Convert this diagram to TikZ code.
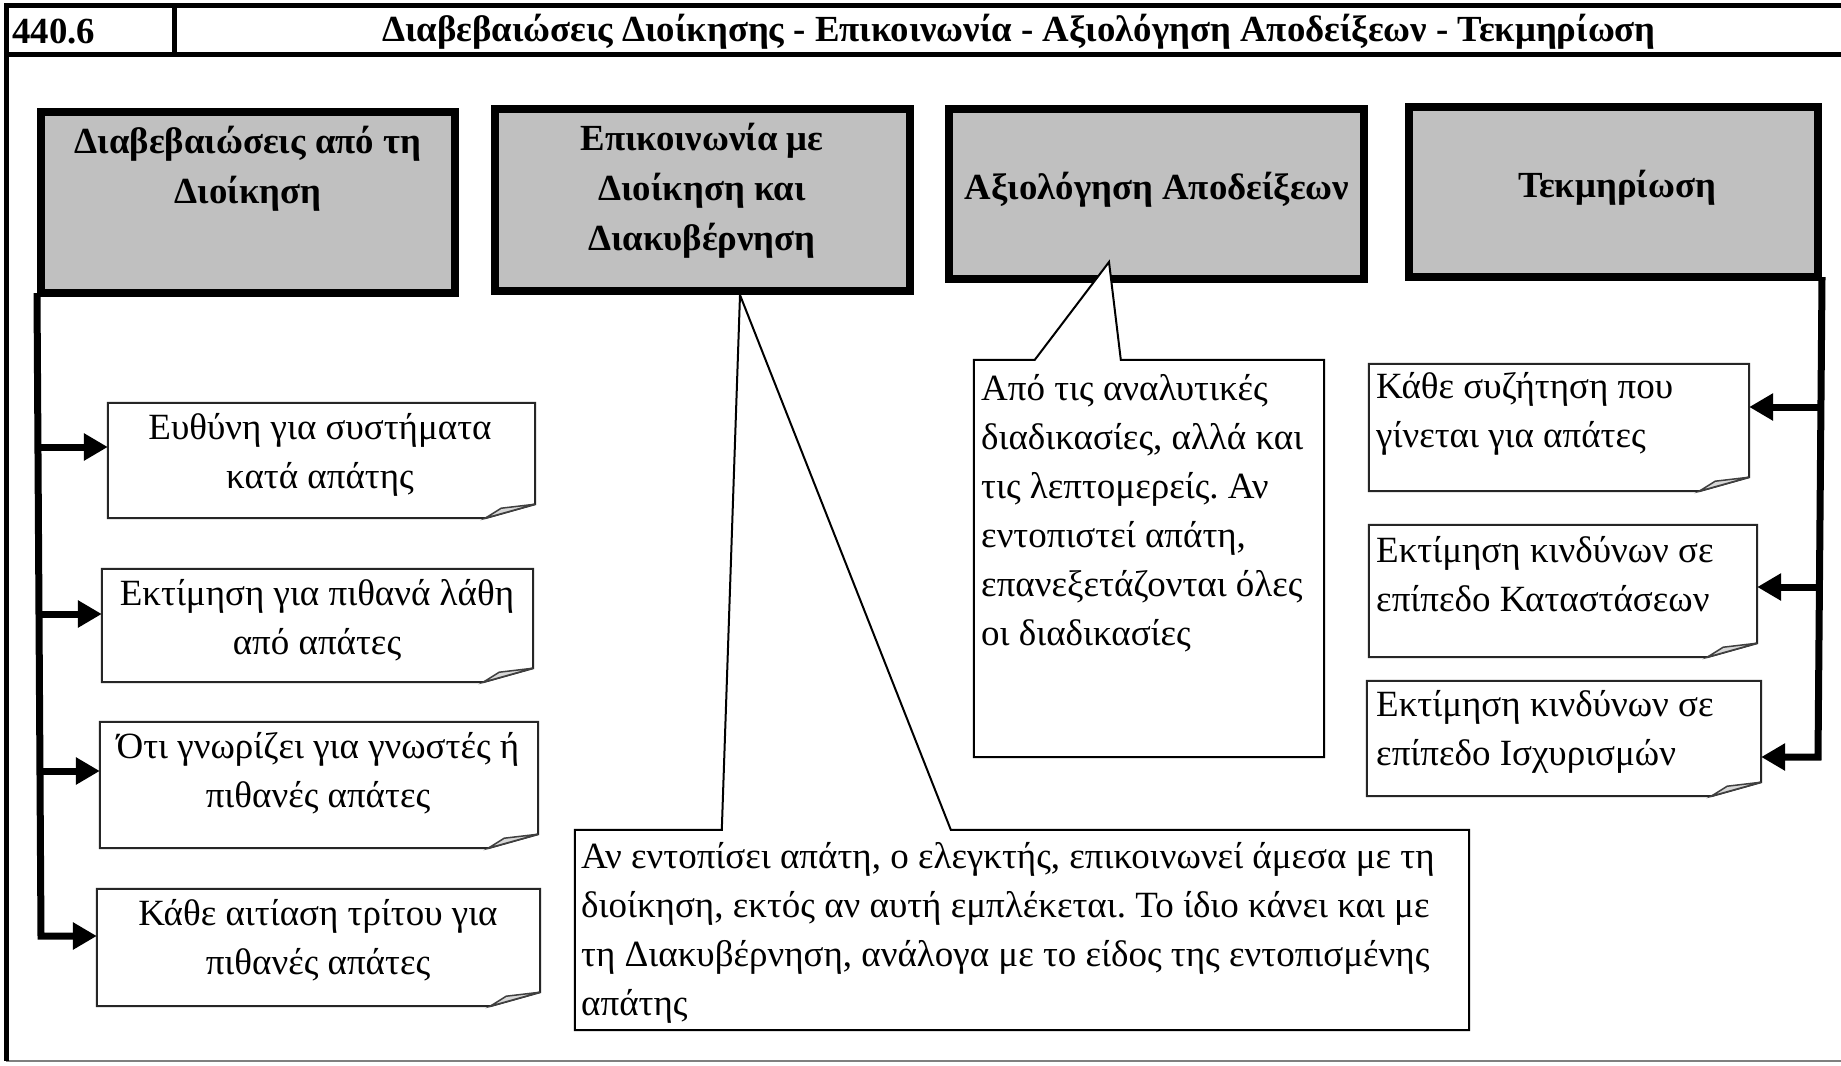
\documentclass[tikz,border=0pt]{standalone}
\usepackage{fontspec}
\setmainfont{Liberation Serif}
\frenchspacing
\usetikzlibrary{arrows.meta,calc}
\definecolor{boxgray}{RGB}{192,192,192}
\definecolor{foldgray}{RGB}{215,215,215}
\tikzset{
  frameline/.style={line width=5pt, draw=black},
  headbox/.style={draw=black, line width=8pt, fill=boxgray, rectangle, inner sep=0pt},
  headtext/.style={font=\fontsize{36.8}{50}\selectfont\bfseries, align=center, inner sep=0pt},
  titletext/.style={font=\fontsize{36.8}{40}\selectfont\bfseries, inner sep=0pt},
  notebody/.style={rectangle, inner sep=0pt, draw=none},
  noteline/.style={draw=black!85, line width=2pt, fill=white},
  foldstyle/.style={draw=black!75, line width=1.5pt, fill=foldgray},
  bodytext/.style={font=\fontsize{37}{49}\selectfont, inner sep=0pt},
  spinearrow/.style={line width=7pt, draw=black, -{Triangle[length=24pt,width=26pt]}},
  callline/.style={draw=black, line width=2pt},
}
\newcommand\drawnote[1]{%
  \draw[noteline] (#1.north west) -- (#1.north east) -- ([yshift=14pt]#1.south east)
    -- ([xshift=-50pt]#1.south east) -- (#1.south west) -- cycle;
  \draw[foldstyle] ([xshift=-50pt]#1.south east) -- ([xshift=-34pt,yshift=10pt]#1.south east)
    -- ([yshift=14pt]#1.south east) -- cycle;}
\begin{document}
\begin{tikzpicture}[x=1pt,y=-1pt]
\useasboundingbox (0,0) rectangle (1841,1065);
\clip (0,0) rectangle (1841,1065);
\fill[white] (0,0) rectangle (1841,1065);
% frame and header
\draw[draw=gray, line width=2pt] (6,1061) -- (1860,1061);
\draw[frameline] (1860,6) -- (6,6) -- (6,1061);
\draw[frameline] (6,55) -- (1860,55);
\draw[frameline] (174,6) -- (174,55);
\node[titletext, anchor=west] (num) at (12,32) {440.6};
\node[titletext] (title) at (1019,32) {Διαβεβαιώσεις Διοίκησης - Επικοινωνία - Αξιολόγηση Αποδείξεων - Τεκμηρίωση};

% notes (left)
\node[notebody, minimum width=427pt, minimum height=115pt] (n1) at (321.5,460.5) {};
\node[notebody, minimum width=431pt, minimum height=113pt] (n2) at (317.5,625.5) {};
\node[notebody, minimum width=438pt, minimum height=126pt] (n3) at (319,785) {};
\node[notebody, minimum width=443pt, minimum height=117pt] (n4) at (318.5,947.5) {};
% notes (right)
\node[notebody, minimum width=380pt, minimum height=127pt] (r1) at (1559,427.5) {};
\node[notebody, minimum width=388pt, minimum height=132pt] (r2) at (1563,591) {};
\node[notebody, minimum width=394pt, minimum height=115pt] (r3) at (1564,738.5) {};
\drawnote{n1}\drawnote{n2}\drawnote{n3}\drawnote{n4}
\drawnote{r1}\drawnote{r2}\drawnote{r3}

\node[bodytext, align=center] (n1t) at (320,455) {Ευθύνη για συστήματα\\κατά απάτης};
\node[bodytext, align=center] (n2t) at (317,620) {Εκτίμηση για πιθανά λάθη\\από απάτες};
\node[bodytext, align=center] (n3t) at (318,773) {Ότι γνωρίζει για γνωστές ή\\πιθανές απάτες};
\node[bodytext, align=center] (n4t) at (318,940) {Κάθε αιτίαση τρίτου για\\πιθανές απάτες};
\node[bodytext, align=left, anchor=west] (r1t) at (1376,414) {Κάθε συζήτηση που\\γίνεται για απάτες};
\node[bodytext, align=left, anchor=west] (r2t) at (1376,574) {Εκτίμηση κινδύνων σε\\επίπεδο Καταστάσεων};
\node[bodytext, align=left, anchor=west] (r3t) at (1376,732) {Εκτίμηση κινδύνων σε\\επίπεδο Ισχυρισμών};

% header boxes
\node[headbox, minimum width=414pt, minimum height=181pt] (b1) at (248,202.5) {};
\node[headbox, minimum width=415pt, minimum height=182pt] (b2) at (702.5,200) {};
\node[headbox, minimum width=415pt, minimum height=170pt] (b3) at (1156.5,194) {};
\node[headbox, minimum width=409pt, minimum height=170pt] (b4) at (1613.5,192) {};
\node[headtext] (b1t) at (248,169) {Διαβεβαιώσεις από τη\\Διοίκηση};
\node[headtext] (b2t) at (702,191) {Επικοινωνία με\\Διοίκηση και\\Διακυβέρνηση};
\node[headtext] (b3t) at (1157,190) {Αξιολόγηση Αποδείξεων};
\node[headtext] (b4t) at (1617,188) {Τεκμηρίωση};

% left spine and arrows
\coordinate (la1) at (41,447);
\coordinate (la2) at (41,614);
\coordinate (la3) at (41,771);
\coordinate (la4) at (41,936);
\draw[spinearrow] ([yshift=4pt]b1.south west) -- (la4) -- (la4 -| n4.west);
\draw[spinearrow] (la1) -- (la1 -| n1.west);
\draw[spinearrow] (la2) -- (la2 -| n2.west);
\draw[spinearrow] (la3) -- (la3 -| n3.west);
% right spine and arrows
\coordinate (ra1) at (1818,407);
\coordinate (ra2) at (1818,587);
\coordinate (ra3) at (1818,757);
\draw[spinearrow] ([yshift=4pt]b4.south east) -- (ra3) -- (ra3 -| r3.east);
\draw[spinearrow] (ra1) -- (ra1 -| r1.east);
\draw[spinearrow] (ra2) -- (ra2 -| r2.east);

% callouts
\node[notebody, minimum width=350pt, minimum height=397pt] (c3) at (1149,558.5) {};
\coordinate (t3) at (1109,262);
\draw[callline, fill=white] (c3.north west) -- ([xshift=61pt]c3.north west) -- (t3)
  -- ([xshift=147pt]c3.north west) -- (c3.north east) -- (c3.south east) -- (c3.south west) -- cycle;
\node[bodytext, align=left, anchor=west] (c3t) at (981,513) {Από τις αναλυτικές\\διαδικασίες, αλλά και\\τις λεπτομερείς. Αν\\εντοπιστεί απάτη,\\επανεξετάζονται όλες\\οι διαδικασίες};

\node[notebody, minimum width=894pt, minimum height=200pt] (c2) at (1022,930) {};
\coordinate (t2) at (740,295);
\draw[callline, fill=white] (c2.north west) -- ([xshift=147pt]c2.north west) -- (t2)
  -- ([xshift=376pt]c2.north west) -- (c2.north east) -- (c2.south east) -- (c2.south west) -- cycle;
\node[bodytext, align=left, anchor=west] (c2t) at (581,932.5) {Αν εντοπίσει απάτη, ο ελεγκτής, επικοινωνεί άμεσα με τη\\διοίκηση, εκτός αν αυτή εμπλέκεται. Το ίδιο κάνει και με\\τη Διακυβέρνηση, ανάλογα με το είδος της εντοπισμένης\\απάτης};
\end{tikzpicture}
\end{document}
